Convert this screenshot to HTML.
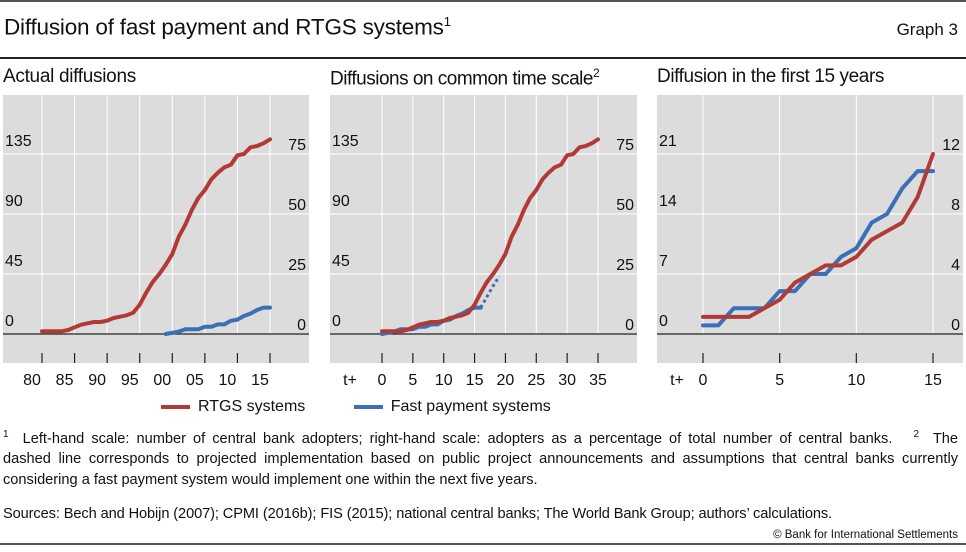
<!DOCTYPE html>
<html><head><meta charset="utf-8"><style>
body{margin:0;width:966px;height:552px;background:#fff;font-family:"Liberation Sans",sans-serif;color:#111;position:relative;overflow:hidden}
.abs{position:absolute;white-space:nowrap}
.fl{position:absolute;left:3px;width:955px;font-size:14.6px;white-space:nowrap;text-align:justify;text-align-last:justify}
</style></head><body>
<div class="abs" style="left:0;top:0;width:966px;height:2px;background:#555"></div>
<div class="abs" style="left:4px;top:14px;font-size:22.5px;letter-spacing:-0.2px">Diffusion of fast payment and RTGS systems<sup style="font-size:13px">1</sup></div>
<div class="abs" style="right:8px;top:20px;font-size:17px">Graph 3</div>
<div class="abs" style="left:0;top:57px;width:966px;height:1.5px;background:#222"></div>
<div class="abs" style="left:3px;top:66px;font-size:19px;letter-spacing:-0.3px">Actual diffusions</div>
<div class="abs" style="left:330px;top:66px;font-size:19px;letter-spacing:-0.5px">Diffusions on common time scale<sup style="font-size:12px">2</sup></div>
<div class="abs" style="left:657px;top:66px;font-size:19px;letter-spacing:-0.4px">Diffusion in the first 15 years</div>
<svg id="chart" width="966" height="400" style="position:absolute;left:0;top:0" font-family="Liberation Sans, sans-serif"></svg>
<div class="abs" style="left:161px;top:398px;font-size:16px">
<span><span style="display:inline-block;width:29px;height:4px;background:#b23a36;vertical-align:middle;margin-right:8px"></span>RTGS systems</span>
<span style="margin-left:44px"><span style="display:inline-block;width:29px;height:4px;background:#3b6fb6;vertical-align:middle;margin-right:8px"></span>Fast payment systems</span>
</div>
<div>
<div class="fl" style="top:429px"><sup style="font-size:10px">1</sup>&nbsp; Left-hand scale: number of central bank adopters; right-hand scale: adopters as a percentage of total number of central banks. &nbsp;&nbsp;<sup style="font-size:10px">2</sup>&nbsp; The</div>
<div class="fl" style="top:451px">dashed line corresponds to projected implementation based on public project announcements and assumptions that central banks currently</div>
<div class="fl" style="top:472px;text-align-last:left;width:auto">considering a fast payment system would implement one within the next five years.</div>
</div>
<div class="abs" style="left:3px;top:506px;font-size:14.6px;letter-spacing:-0.1px">Sources: Bech and Hobijn (2007); CPMI (2016b); FIS (2015); national central banks; The World Bank Group; authors’ calculations.</div>
<div class="abs" style="right:8px;top:529px;font-size:11.5px">© Bank for International Settlements</div>
<div class="abs" style="left:0;top:543px;width:966px;height:2px;background:#555"></div>
<script>
const rtgsYears=[1980,1981,1982,1983,1984,1985,1986,1987,1988,1989,1990,1991,1992,1993,1994,1995,1996,1997,1998,1999,2000,2001,2002,2003,2004,2005,2006,2007,2008,2009,2010,2011,2012,2013,2014,2015];
const rtgsCount=[2,2,2,2,3,5,7,8,9,9,10,12,13,14,16,22,31,39,45,52,60,73,82,93,102,108,116,121,125,127,134,135,140,141,143,146];
const fastYears=[1999,2000,2001,2002,2003,2004,2005,2006,2007,2008,2009,2010,2011,2012,2013,2014,2015];
const fastPct=[0,0.5,1,2,2,2,3,3,4,4,5.5,6,7.5,8.5,10,11,11];
const projT=[16,17,18,19];
const projPct=[11,15.5,20,24];
const first15T=[0,1,2,3,4,5,6,7,8,9,10,11,12,13,14,15];
const first15Rtgs=[2,2,2,2,3,4,6,7,8,8,9,11,12,13,16,21];
const first15Fast=[1,1,3,3,3,5,5,7,7,9,10,13,14,17,19,19];
const yTicksL1=[0,45,90,135];const yTicksR1=[0,25,50,75];
const yTicksL3=[0,7,14,21];const yTicksR3=[0,4,8,12];
const xLabels1=["80","85","90","95","00","05","10","15"];
const xTicks2=[0,5,10,15,20,25,30,35];
const xTicks3=[0,5,10,15];

const svg=document.getElementById('chart');const NS="http://www.w3.org/2000/svg";
function el(t,a,p){const e=document.createElementNS(NS,t);for(const k in a)e.setAttribute(k,a[k]);(p||svg).appendChild(e);return e;}
const Y0=334,STEP=60;
function panel(name,x0,x1,xs,ticks,labels,lOff,yL,yR,leftMax,tLabel){
  const g=el('g',{});
  el('rect',{x:x0,y:95,width:x1-x0,height:268,fill:'#dcdcdc'},g);
  ticks.forEach(t=>{el('line',{x1:xs(t),x2:xs(t),y1:95,y2:334,stroke:'#fff','stroke-width':1},g);});
  for(let i=1;i<=3;i++)el('line',{x1:x0,x2:x1,y1:Y0-i*STEP,y2:Y0-i*STEP,stroke:'#fff','stroke-width':1},g);
  const ax=el('line',{x1:x0,x2:x1,y1:Y0,y2:Y0,stroke:'#222','stroke-width':1.2},g);
  ticks.forEach((t,i)=>{el('line',{x1:xs(t),x2:xs(t),y1:353,y2:363,stroke:'#222','stroke-width':1.2},g);
    const tx=el('text',{x:xs(t)+lOff,y:385,'font-size':16,'text-anchor':'middle',fill:'#111'},g);tx.textContent=labels[i];
    });
  if(tLabel){const tx=el('text',{x:x0+20,y:385,'font-size':16,'text-anchor':'middle',fill:'#111'},g);tx.textContent='t+';}
  yL.forEach((v,i)=>{const tx=el('text',{x:x0+2,y:Y0-i*STEP-8,'font-size':16,fill:'#111'},g);tx.textContent=v;
    });
  yR.forEach((v,i)=>{const tx=el('text',{x:x1-3,y:Y0-i*STEP-4,'font-size':16,'text-anchor':'end',fill:'#111'},g);tx.textContent=v;
    });
  return g;
}
function line(g,xsArr,vals,xs,ys,col,name,dash){
  const d=vals.map((v,i)=>(i?'L':'M')+xs(xsArr[i]).toFixed(1)+','+ys(v).toFixed(1)).join('');
  const p=el('path',{d:d,fill:'none',stroke:col,'stroke-width':dash?3:4,'stroke-linejoin':'round','stroke-linecap':dash?'butt':'round'},g);
  if(dash)p.setAttribute('stroke-dasharray','3,3');
  
}
const RED='#b23a36',BLUE='#3b6fb6';
const xs1=y=>42+(y-1980)*(228/35);
const ysL1=v=>Y0-v*STEP/45, ysR1=v=>Y0-v*STEP/25;
const g1=panel('panel-actual',3,309,xs1,[1980,1985,1990,1995,2000,2005,2010,2015],xLabels1,-10,yTicksL1,yTicksR1);
line(g1,fastYears,fastPct,xs1,ysR1,BLUE,'fast-payment-line');
line(g1,rtgsYears,rtgsCount,xs1,ysL1,RED,'rtgs-line');
const xs2=t=>382+t*(216/35);
const g2=panel('panel-common',330,637,xs2,xTicks2,xTicks2.map(String),0,yTicksL1,yTicksR1,0,true);
line(g2,fastYears.map(y=>y-1999),fastPct,xs2,ysR1,BLUE,'fast-payment-line');
line(g2,projT,projPct,xs2,ysR1,BLUE,'fast-payment-projection',true);
line(g2,rtgsYears.map(y=>y-1980),rtgsCount,xs2,ysL1,RED,'rtgs-line');
const xs3=t=>703+t*(230/15);
const ysL3=v=>Y0-v*STEP/7;
const g3=panel('panel-first-15',657,963,xs3,xTicks3,xTicks3.map(String),0,yTicksL3,yTicksR3,0,true);
line(g3,first15T,first15Fast,xs3,ysL3,BLUE,'fast-payment-line');
line(g3,first15T,first15Rtgs,xs3,ysL3,RED,'rtgs-line');
</script>
</body></html>
